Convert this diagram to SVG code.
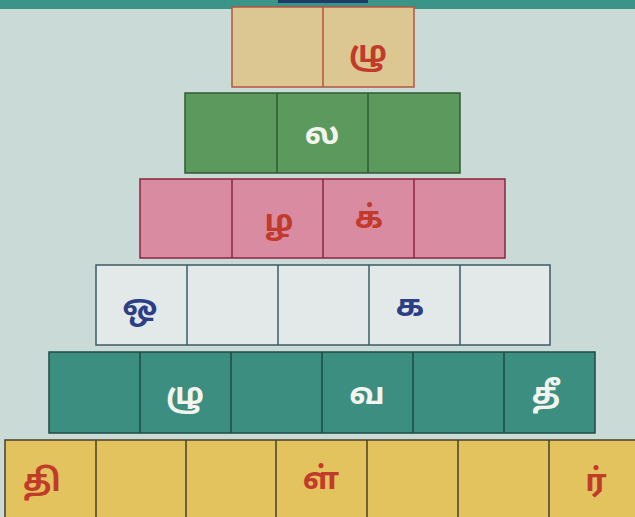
<svg xmlns="http://www.w3.org/2000/svg" width="635" height="517" viewBox="0 0 635 517">
<style>
.t{font-family:"Noto Sans Tamil","Noto Sans","DejaVu Sans",sans-serif;font-weight:bold;font-size:31px;text-anchor:middle;dominant-baseline:central}
.red{fill:#c23a2a}.wh{fill:#f4f4ee}.bl{fill:#2c3f86}
.div{stroke-width:1.5}
</style>
<rect width="635" height="517" fill="#c9dad7"/>
<rect x="0" y="0" width="635" height="9" fill="#3a9488"/>
<rect x="278" y="0" width="90" height="3" fill="#1f3a66"/>

<g id="row1">
<rect x="232" y="7" width="182" height="80" fill="#dcc692" stroke="#b5563f" stroke-width="1.5"/>
<line x1="323" y1="7" x2="323" y2="87" stroke="#b5563f" class="div"/>
<text class="t red" x="368" y="54">ழு</text>
</g>

<g id="row2">
<rect x="185" y="93" width="275" height="80" fill="#5b9a5c" stroke="#2f5a33" stroke-width="1.5"/>
<g stroke="#2f5a33" class="div"><line x1="277" y1="93" x2="277" y2="173"/><line x1="368" y1="93" x2="368" y2="173"/></g>
<text class="t wh" x="322" y="136">ல</text>
</g>

<g id="row3">
<rect x="140" y="179" width="365" height="79" fill="#d98ba2" stroke="#8a2440" stroke-width="1.5"/>
<g stroke="#8a2440" class="div"><line x1="232" y1="179" x2="232" y2="258"/><line x1="323" y1="179" x2="323" y2="258"/><line x1="414" y1="179" x2="414" y2="258"/></g>
<text class="t red" x="279" y="223">ழ</text>
<text class="t red" x="369" y="220">க்</text>
</g>

<g id="row4">
<rect x="96" y="265" width="454" height="80" fill="#e3e9e8" stroke="#3d5a66" stroke-width="1.5"/>
<g stroke="#3d5a66" class="div"><line x1="187" y1="265" x2="187" y2="345"/><line x1="278" y1="265" x2="278" y2="345"/><line x1="369" y1="265" x2="369" y2="345"/><line x1="460" y1="265" x2="460" y2="345"/></g>
<text class="t bl" x="140" y="308">ஒ</text>
<text class="t bl" x="410" y="308">க</text>
</g>

<g id="row5">
<rect x="49" y="352" width="546" height="81" fill="#3c8f80" stroke="#1f4a44" stroke-width="1.5"/>
<g stroke="#1f4a44" class="div"><line x1="140" y1="352" x2="140" y2="433"/><line x1="231" y1="352" x2="231" y2="433"/><line x1="322" y1="352" x2="322" y2="433"/><line x1="413" y1="352" x2="413" y2="433"/><line x1="504" y1="352" x2="504" y2="433"/></g>
<text class="t wh" x="185" y="396">ழு</text>
<text class="t wh" x="367" y="396">வ</text>
<text class="t wh" x="546" y="396">தீ</text>
</g>

<g id="row6">
<rect x="5" y="440" width="640" height="85" fill="#e2c35e" stroke="#4a3f2a" stroke-width="1.5"/>
<g stroke="#4a3f2a" class="div"><line x1="96" y1="440" x2="96" y2="517"/><line x1="186" y1="440" x2="186" y2="517"/><line x1="276" y1="440" x2="276" y2="517"/><line x1="367" y1="440" x2="367" y2="517"/><line x1="458" y1="440" x2="458" y2="517"/><line x1="549" y1="440" x2="549" y2="517"/></g>
<text class="t red" x="42" y="483">தி</text>
<text class="t red" x="321" y="481">ள்</text>
<text class="t red" x="596" y="483">ர்</text>
</g>
<g id="connectors"/>
</svg>
